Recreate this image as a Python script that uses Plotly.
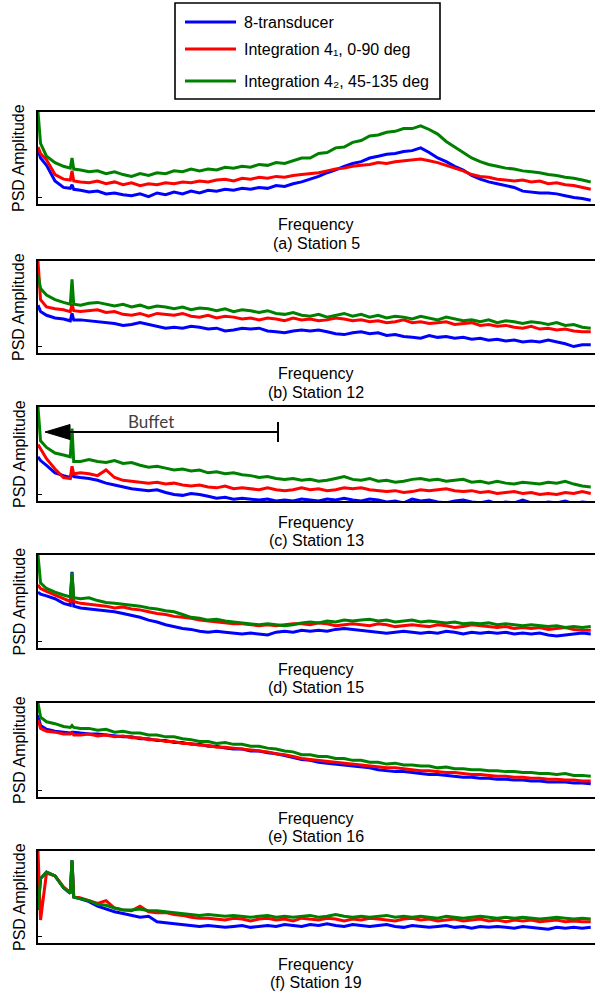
import plotly.graph_objects as go

# ---------------- data (normalised PSD amplitude, 0 = bottom, 100 = top of each panel) -------------
FREQ = [0, 0.3, 1, 2, 3, 3.8, 4, 4.2] + list(range(5, 66))

SERIES = ["8-transducer", "Integration 4\u2081, 0-90 deg", "Integration 4\u2082, 45-135 deg"]
STATIONS = ["(a) Station 5", "(b) Station 12", "(c) Station 13",
            "(d) Station 15", "(e) Station 16", "(f) Station 19"]

A_BLUE = [59, 50, 42, 25, 18, 17, 21, 16, 15, 13, 14, 11, 12, 10, 9, 11, 8, 12, 10, 13, 11, 14, 12, 15, 14, 16, 15, 17,
          16, 18, 17, 20, 19, 22, 24, 27, 30, 34, 37, 41, 44, 46, 50, 52, 54, 55, 57, 58, 61, 56, 50, 46, 41, 37,
          31, 27, 24, 22, 20, 18, 14, 13, 12, 12, 11, 9, 7, 6, 4]
A_RED = [62, 55, 48, 32, 27, 26, 36, 25, 24, 23, 25, 22, 24, 21, 23, 20, 22, 21, 23, 22, 24, 23, 25, 24, 26, 27, 25, 28,
         27, 29, 28, 30, 29, 31, 32, 33, 34, 36, 38, 39, 41, 42, 43, 45, 44, 46, 47, 48, 49, 47, 45, 42, 39, 36,
         32, 30, 29, 27, 26, 25, 26, 24, 25, 22, 23, 21, 20, 18, 16]
A_GREEN = [100, 66, 52, 45, 41, 39, 50, 38, 37, 35, 36, 33, 35, 32, 30, 33, 31, 34, 33, 36, 35, 38, 36, 38, 37, 40, 39, 41,
           40, 43, 42, 45, 44, 47, 50, 50, 55, 56, 61, 62, 67, 69, 74, 75, 78, 79, 82, 82, 85, 81, 76, 68, 62, 56,
           50, 46, 43, 41, 39, 38, 36, 35, 34, 32, 31, 29, 28, 26, 24]

B_BLUE = [52, 45, 41, 38, 37, 35, 43, 36, 36, 35, 34, 33, 32, 30, 31, 33, 31, 29, 27, 28, 27, 29, 28, 26, 27, 24, 25, 27,
          26, 27, 24, 23, 22, 24, 25, 24, 25, 23, 21, 20, 22, 23, 21, 22, 19, 20, 18, 17, 16, 19, 17, 18, 16, 17,
          15, 16, 14, 15, 13, 14, 12, 13, 12, 14, 12, 10, 7, 9, 9]
B_RED = [100, 58, 50, 48, 47, 45, 53, 46, 45, 46, 47, 44, 45, 42, 41, 43, 40, 43, 42, 41, 43, 40, 39, 41, 38, 40, 39, 37,
         38, 36, 38, 37, 35, 38, 36, 37, 35, 36, 38, 37, 35, 36, 34, 35, 33, 34, 36, 33, 34, 32, 33, 34, 31, 32,
         33, 30, 31, 29, 30, 28, 27, 29, 26, 27, 25, 26, 24, 23, 23]
B_GREEN = [85, 70, 63, 58, 55, 53, 80, 53, 52, 54, 55, 53, 51, 53, 50, 52, 49, 51, 50, 48, 50, 47, 49, 48, 46, 48, 45, 47,
           46, 44, 46, 43, 42, 44, 41, 40, 42, 39, 41, 43, 40, 42, 39, 41, 38, 40, 39, 37, 40, 38, 36, 39, 37, 35,
           36, 34, 36, 33, 35, 34, 32, 34, 33, 31, 33, 30, 31, 28, 27]

C_BLUE = [47, 43, 38, 30, 27, 25, 30, 26, 25, 24, 22, 19, 17, 15, 13, 12, 11, 12, 9, 7, 6, 8, 7, 5, 3, 4, 2, 3,
          2, 1, 2, 0, 1, 0, 2, 1, 0, 2, 1, 3, 1, 0, 2, 1, -1, 0, -2, 2, 0, 1, -1, -2, 0, 1,
          -1, -2, 0, -3, -1, -2, 1, -2, -3, -1, -2, 0, -3, -1, -2]
C_RED = [60, 55, 45, 34, 25, 24, 37, 29, 30, 29, 27, 33, 25, 22, 21, 20, 19, 20, 18, 19, 17, 16, 17, 15, 14, 16, 13, 14,
         13, 12, 14, 12, 11, 12, 14, 12, 13, 11, 12, 14, 13, 14, 12, 11, 10, 11, 9, 10, 12, 11, 12, 13, 11, 10,
         11, 9, 10, 8, 9, 10, 8, 9, 7, 8, 7, 9, 8, 10, 8]
C_GREEN = [100, 64, 57, 51, 49, 47, 77, 42, 42, 44, 42, 41, 43, 40, 41, 38, 36, 37, 35, 33, 34, 32, 33, 30, 31, 29, 30, 28,
           27, 25, 26, 24, 23, 24, 22, 23, 21, 22, 24, 26, 23, 22, 24, 21, 22, 20, 21, 23, 24, 22, 23, 21, 22, 23,
           20, 21, 19, 21, 19, 18, 20, 19, 18, 20, 19, 21, 18, 16, 15]

D_BLUE = [60, 58, 56, 53, 48, 46, 82, 45, 43, 42, 41, 40, 39, 37, 35, 33, 30, 28, 25, 23, 21, 20, 18, 17, 18, 17, 16, 15,
          16, 15, 14, 17, 18, 17, 19, 18, 19, 18, 20, 21, 20, 19, 18, 17, 16, 17, 18, 17, 16, 17, 16, 18, 17, 15,
          17, 16, 17, 16, 17, 15, 16, 15, 16, 14, 13, 14, 15, 16, 15]
D_RED = [68, 64, 61, 57, 53, 50, 78, 50, 48, 47, 46, 45, 43, 44, 42, 41, 39, 37, 36, 34, 33, 32, 30, 29, 28, 27, 26, 26,
         25, 24, 25, 24, 25, 26, 26, 25, 27, 26, 24, 25, 26, 25, 24, 26, 25, 23, 24, 25, 24, 23, 25, 24, 22, 23,
         25, 24, 23, 22, 23, 21, 22, 21, 22, 20, 21, 22, 20, 19, 19]
D_GREEN = [100, 70, 64, 60, 57, 55, 81, 54, 53, 54, 51, 49, 48, 47, 46, 45, 43, 42, 40, 39, 36, 33, 32, 30, 31, 29, 28, 27,
           26, 25, 26, 25, 24, 25, 27, 28, 27, 29, 28, 30, 29, 30, 31, 29, 30, 28, 29, 30, 28, 29, 28, 27, 28, 26,
           27, 26, 27, 25, 26, 25, 24, 25, 24, 23, 24, 22, 23, 22, 23]

E_BLUE = [87, 76, 72, 70, 69, 68, 69, 69, 68, 67, 67, 66, 65, 64, 64, 62, 62, 60, 60, 58, 58, 56, 56, 54, 54, 52, 51, 51,
          49, 49, 47, 46, 44, 42, 40, 39, 37, 36, 35, 34, 33, 32, 31, 29, 28, 27, 27, 26, 25, 24, 24, 23, 22, 21,
          21, 20, 20, 19, 19, 18, 18, 17, 17, 16, 16, 16, 15, 15, 14]
E_RED = [82, 73, 70, 69, 67, 67, 68, 66, 66, 67, 65, 66, 64, 65, 63, 63, 61, 61, 59, 59, 57, 57, 55, 55, 53, 53, 52, 51,
         50, 49, 48, 46, 45, 43, 41, 40, 39, 38, 37, 36, 35, 34, 33, 32, 31, 31, 30, 29, 28, 28, 27, 26, 26, 25,
         24, 24, 23, 22, 22, 21, 21, 20, 20, 19, 19, 18, 18, 17, 17]
E_GREEN = [100, 85, 80, 78, 75, 74, 76, 74, 73, 73, 71, 72, 69, 70, 68, 68, 66, 66, 64, 64, 62, 61, 59, 59, 57, 58, 56, 56,
           54, 54, 52, 51, 49, 48, 45, 45, 43, 43, 41, 41, 39, 39, 37, 37, 35, 36, 34, 34, 33, 33, 31, 32, 30, 30,
           29, 29, 28, 28, 27, 27, 26, 26, 25, 25, 24, 25, 23, 23, 22]

F_BLUE = [36, 70, 77, 73, 60, 54, 90, 50, 48, 45, 40, 37, 34, 32, 30, 28, 29, 23, 22, 21, 20, 19, 18,
          19, 18, 17, 18, 19, 17, 18, 19, 18, 20, 19, 18, 20, 19, 21, 19, 18, 20, 19, 18, 19, 20, 18, 17,
          19, 18, 17, 18, 19, 17, 18, 16, 18, 17, 18, 17, 16, 18, 17, 16, 15, 17, 16, 17, 16, 17]
F_RED = [100, 25, 76, 73, 61, 55, 89, 51, 49, 46, 43, 46, 38, 36, 35, 40, 34, 33, 33, 31, 30, 28, 27,
         27, 26, 25, 27, 26, 24, 26, 27, 25, 26, 24, 27, 26, 25, 27, 26, 24, 26, 25, 27, 26, 25, 24, 26,
         27, 25, 26, 24, 25, 26, 24, 25, 26, 24, 25, 23, 25, 24, 25, 23, 24, 25, 23, 24, 23, 23]
F_GREEN = [36, 70, 77, 73, 60, 54, 90, 50, 48, 46, 42, 41, 38, 36, 36, 37, 35, 35, 34, 33, 32, 31, 30,
           31, 30, 29, 30, 29, 28, 29, 30, 28, 29, 28, 29, 30, 28, 29, 31, 29, 28, 29, 28, 29, 30, 28, 29,
           28, 29, 28, 27, 29, 28, 27, 28, 29, 28, 27, 28, 27, 28, 27, 26, 27, 28, 27, 26, 27, 26]

PANEL_DATA = [
    (A_BLUE, A_RED, A_GREEN), (B_BLUE, B_RED, B_GREEN), (C_BLUE, C_RED, C_GREEN),
    (D_BLUE, D_RED, D_GREEN), (E_BLUE, E_RED, E_GREEN), (F_BLUE, F_RED, F_GREEN),
]

# ---------------- layout / style -------------
W, H = 595, 995
COLORS = ["#0000FF", "#FF0000", "#008000"]
FONT = "Liberation Sans, Arial, DejaVu Sans, sans-serif"
LEFT = 38
PANELS = [(112, 204), (261, 353), (407, 501), (555, 648), (703, 797), (851, 943)]  # top, bottom px


def px(x):
    return x / W


def py(y):
    return 1 - y / H


fig = go.Figure()
annotations = []
shapes = []

for k, ((top, bot), series) in enumerate(zip(PANELS, PANEL_DATA)):
    sfx = "" if k == 0 else str(k + 1)
    for name, vals, col in zip(SERIES, series, COLORS):
        fig.add_trace(go.Scatter(
            x=FREQ, y=vals, mode="lines", name=name, showlegend=False,
            line=dict(color=col, width=3), xaxis="x" + sfx, yaxis="y" + sfx,
        ))
    fig.layout["xaxis" + sfx] = dict(
        domain=[px(LEFT), 1], range=[0, 65.5], anchor="y" + sfx,
        showline=True, mirror=True, linecolor="black", linewidth=2,
        showgrid=False, zeroline=False, showticklabels=False, ticks="",
    )
    fig.layout["yaxis" + sfx] = dict(
        domain=[py(bot), py(top)], range=[0, 100], anchor="x" + sfx,
        showline=True, mirror=False, linecolor="black", linewidth=2,
        showgrid=False, zeroline=False, showticklabels=False,
        tickvals=[7], ticks="inside", ticklen=4, tickwidth=1, tickcolor="black",
    )
    annotations.append(dict(text="PSD Amplitude", x=px(19), y=py((top + bot) / 2), xref="paper", yref="paper",
                            textangle=-90, showarrow=False, font=dict(family=FONT, size=16, color="black"),
                            xanchor="center", yanchor="middle"))
    annotations.append(dict(text="Frequency", x=px(316), y=py(bot + 21), xref="paper", yref="paper",
                            showarrow=False, font=dict(family=FONT, size=16, color="black"),
                            xanchor="center", yanchor="middle"))
    annotations.append(dict(text=STATIONS[k], x=px(316), y=py(bot + 39), xref="paper", yref="paper",
                            showarrow=False, font=dict(family=FONT, size=16, color="black"),
                            xanchor="center", yanchor="middle"))

# legend box (drawn)
shapes.append(dict(type="rect", xref="paper", yref="paper", x0=px(175), x1=px(440), y0=py(99), y1=py(3),
                   line=dict(color="black", width=1.6), fillcolor="white"))
LEG_Y = [22, 49, 81]
for name, col, ly in zip(SERIES, COLORS, LEG_Y):
    shapes.append(dict(type="line", xref="paper", yref="paper", x0=px(185), x1=px(236), y0=py(ly), y1=py(ly),
                       line=dict(color=col, width=3)))
    annotations.append(dict(text=name, x=px(242), y=py(ly + 1), xref="paper", yref="paper", showarrow=False,
                            xanchor="left", yanchor="middle", font=dict(family=FONT, size=16, color="black")))

# Buffet arrow in panel (c)
shapes.append(dict(type="line", xref="paper", yref="paper", x0=px(66), x1=px(278), y0=py(432), y1=py(432),
                   line=dict(color="black", width=2)))
shapes.append(dict(type="line", xref="paper", yref="paper", x0=px(278), x1=px(278), y0=py(422), y1=py(442),
                   line=dict(color="black", width=2)))
shapes.append(dict(type="path", xref="paper", yref="paper",
                   path=f"M {px(45)},{py(432)} L {px(70)},{py(424.5)} L {px(70)},{py(439.5)} Z",
                   fillcolor="black", line=dict(color="black", width=1)))
annotations.append(dict(text="Buffet", x=px(151), y=py(421), xref="paper", yref="paper", showarrow=False,
                        xanchor="center", yanchor="middle", font=dict(family="Lato, Carlito, sans-serif", size=17,
                                                                     color="#404040")))

fig.update_layout(
    width=W, height=H, margin=dict(l=0, r=0, t=0, b=0),
    paper_bgcolor="white", plot_bgcolor="white",
    showlegend=False, annotations=annotations, shapes=shapes,
)

fig.write_html("out.html")
